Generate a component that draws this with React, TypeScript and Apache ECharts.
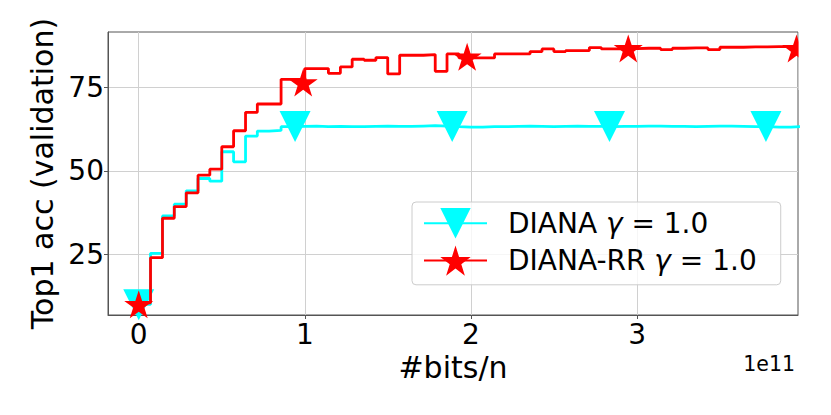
import React, { useEffect, useRef } from 'react';
import * as echarts from 'echarts';

const FONT = 'DejaVu Sans';

// x positions in units of 1e11 bits/n
const xSteps = [
  0, 0.071, 0.143, 0.214, 0.286, 0.357, 0.428, 0.5, 0.571, 0.643,
  0.714, 0.785, 0.857, 0.928, 1.0, 1.071, 1.142, 1.214, 1.285, 1.357,
  1.428, 1.499, 1.571, 1.642, 1.714, 1.785, 1.856, 1.928, 1.999, 2.071,
  2.142, 2.213, 2.285, 2.356, 2.428, 2.499, 2.57, 2.642, 2.713, 2.785,
  2.856, 2.927, 2.999, 3.07, 3.142, 3.213, 3.284, 3.356, 3.427, 3.499,
  3.57, 3.641, 3.713, 3.784, 3.856, 3.927, 3.998,
];

const dianaAcc = [
  10.0, 25.3, 36.5, 40.0, 44.0, 47.7, 46.9, 55.7, 52.7, 60.4,
  61.9, 62.1, 63.2, 63.3, 63.4, 63.2, 63.3, 63.2, 63.2, 63.3,
  63.4, 63.3, 63.3, 63.4, 63.5, 63.4, 63.2, 63.1, 63.1, 63.2,
  63.2, 63.3, 63.4, 63.3, 63.2, 63.3, 63.4, 63.3, 63.3, 63.2,
  63.3, 63.3, 63.4, 63.4, 63.3, 63.3, 63.2, 63.3, 63.4, 63.4,
  63.3, 63.2, 63.2, 63.1, 63.1, 63.3, 63.3,
];

const dianaRRAcc = [
  10.5, 24.0, 35.8, 39.3, 43.4, 48.7, 50.5, 57.2, 62.0, 67.5,
  70.0, 70.0, 77.4, 77.4, 80.6, 80.6, 79.2, 81.1, 83.4, 83.1,
  83.9, 79.0, 84.6, 84.6, 84.8, 79.8, 85.0, 83.8, 83.8, 83.8,
  85.0, 85.0, 85.0, 85.7, 86.5, 85.7, 86.0, 86.0, 86.9, 86.5,
  86.5, 86.6, 86.7, 86.7, 86.3, 86.7, 86.8, 86.8, 86.3, 87.0,
  87.0, 87.1, 87.1, 87.2, 87.2, 87.2, 87.2,
];

const dianaMarkX = [0, 0.941, 1.887, 2.834, 3.776];
const dianaMarkY = [9.9, 63.3, 63.3, 63.3, 63.3];
const rrMarkX = [0, 0.99, 1.977, 2.947, 3.96];
const rrMarkY = [9.6, 76.0, 83.7, 86.2, 86.2];

const xTicks = [0, 1, 2, 3];
const yTicks = [25, 50, 75];

const TRI = 'path://M0,0L200,0L100,200Z';
const STAR =
  'path://M100,0L122.45,69.1L195.11,69.1L136.33,111.8L158.78,180.9L100,138.2L41.22,180.9L63.67,111.8L4.89,69.1L77.55,69.1Z';

const CYAN = '#00ffff';
const RED = '#ff0000';

export default function App() {
  const ref = useRef<HTMLDivElement>(null);
  useEffect(() => {
    const chart = echarts.init(ref.current!, null, { renderer: 'svg' });
    const pair = (xs: number[], ys: number[]) => xs.map((x, i) => [x, ys[i]]);
    const option: any = {
      animation: false,
      backgroundColor: '#ffffff',
      textStyle: { fontFamily: FONT },
      grid: {
        left: 108,
        top: 32,
        right: 33,
        bottom: 100,
        show: true,
        borderColor: '#555555',
        borderWidth: 1,
        backgroundColor: 'transparent',
      },
      xAxis: {
        type: 'value',
        min: -0.185,
        max: 3.969,
        interval: 1,
        name: '#bits/n',
        nameLocation: 'middle',
        nameGap: 35,
        nameTextStyle: { fontSize: 30, color: '#000', fontFamily: FONT },
        axisLine: { show: true, onZero: false, lineStyle: { color: '#555555', width: 1 } },
        axisTick: { show: true, length: 4, customValues: xTicks, lineStyle: { color: '#555555' } },
        axisLabel: {
          margin: 5,
          fontSize: 28,
          color: '#000',
          fontFamily: FONT,
          customValues: xTicks,
          formatter: (v: number) => (Math.abs(v - Math.round(v)) < 1e-6 ? String(Math.round(v)) : ''),
        },
        splitLine: { show: true, lineStyle: { color: '#d0d0d0', width: 1 } },
      },
      yAxis: {
        type: 'value',
        min: 6.83,
        max: 91.56,
        interval: 25,
        name: 'Top1 acc (validation)',
        nameLocation: 'middle',
        nameGap: 50,
        nameTextStyle: { fontSize: 30, color: '#000', fontFamily: FONT },
        axisLine: { show: true, onZero: false, lineStyle: { color: '#555555', width: 1 } },
        axisTick: { show: true, length: 4, customValues: yTicks, lineStyle: { color: '#555555' } },
        axisLabel: {
          margin: 4,
          fontSize: 28,
          color: '#000',
          fontFamily: FONT,
          customValues: yTicks,
          formatter: (v: number) => (Math.abs(v % 25) < 1e-6 ? String(v) : ''),
        },
        splitLine: { show: true, lineStyle: { color: '#d0d0d0', width: 1 } },
      },
      legend: {
        data: ['DIANA', 'DIANA-RR'],
        orient: 'vertical',
        left: 412,
        top: 202,
        itemWidth: 63,
        itemHeight: 38,
        itemGap: 7,
        padding: [6, 24, 9, 11],
        backgroundColor: 'rgba(255,255,255,0.8)',
        borderColor: '#cccccc',
        borderWidth: 1,
        borderRadius: 4,
        selectedMode: false,
        formatter: (name: string) => `${name} {g|γ} = 1.0`,
        textStyle: {
          fontSize: 28,
          fontFamily: FONT,
          color: '#000',
          padding: [0, 0, 0, 16],
          rich: { g: { fontSize: 28, fontFamily: FONT, fontStyle: 'italic', color: '#000' } },
        },
      },
      series: [
        {
          name: 'DIANA',
          type: 'line',
          step: 'end',
          data: pair(xSteps, dianaAcc),
          showSymbol: false,
          symbol: TRI,
          symbolSize: 31,
          lineStyle: { color: CYAN, width: 2.8 },
          itemStyle: { color: CYAN, opacity: 1 },
          clip: true,
          z: 2,
        },
        {
          name: 'DIANA markers',
          type: 'scatter',
          data: pair(dianaMarkX, dianaMarkY),
          symbol: TRI,
          symbolSize: [31, 31],
          itemStyle: { color: CYAN, opacity: 1 },
          z: 3,
        },
        {
          name: 'DIANA-RR',
          type: 'line',
          step: 'end',
          data: pair(xSteps, dianaRRAcc),
          showSymbol: false,
          symbol: STAR,
          symbolSize: 28,
          lineStyle: { color: RED, width: 2.8 },
          itemStyle: { color: RED, opacity: 1 },
          clip: true,
          z: 4,
        },
        {
          name: 'DIANA-RR markers',
          type: 'scatter',
          data: pair(rrMarkX, rrMarkY),
          symbol: STAR,
          symbolSize: [29, 28],
          symbolOffset: [0, -1.5],
          itemStyle: { color: RED, opacity: 1 },
          z: 5,
        },
      ],
      graphic: [
        {
          type: 'rect',
          shape: { x: 798.6, y: 20, width: 40, height: 70 },
          style: { fill: '#ffffff' },
          z: 100,
          silent: true,
        },
        {
          type: 'text',
          x: 795,
          y: 363.6,
          style: {
            text: '1e11',
            fontSize: 20.5,
            fontFamily: FONT,
            fill: '#000',
            textAlign: 'right',
            textVerticalAlign: 'middle',
          },
          z: 100,
        },
      ],
    };
    chart.setOption(option);
    return () => chart.dispose();
  }, []);
  return (
    <div
      ref={ref}
      style={{ position: 'fixed', left: 0, top: 0, width: 831, height: 415 }}
    />
  );
}
